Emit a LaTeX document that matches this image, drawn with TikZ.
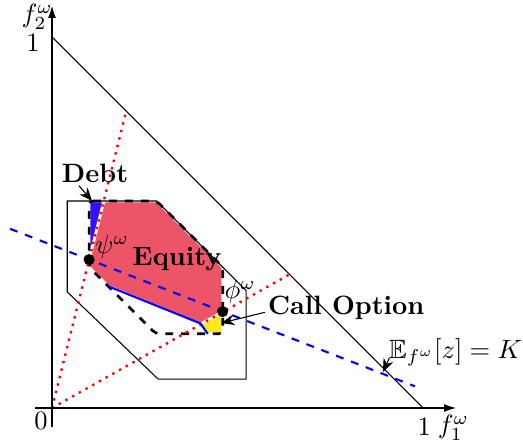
\documentclass[tikz,border=0pt]{standalone}
\usepackage{amssymb}
\usetikzlibrary{arrows.meta,calc}
\definecolor{eqred}{HTML}{EE5468}
\definecolor{debtblue}{HTML}{3311FF}
\definecolor{callyel}{HTML}{FFE81A}
\begin{document}
\begin{tikzpicture}[x=140pt,y=140pt,
  region/.style={draw=white, line width=1pt},
  reddot/.style={red, line width=0.9pt, dotted},
  ptr/.style={-{Stealth[length=5pt,width=4pt]}, thin},
  ax/.style={-{Latex[length=4.5pt,width=3pt]}},
  dotpt/.style={circle, fill=black, inner sep=0pt, minimum size=4.2pt},
  tick/.style={inner sep=0pt},
  bold/.style={font=\bfseries, inner sep=1pt}]
\useasboundingbox (-0.1402,-0.1024) rectangle (1.2695,1.0997);
% regions
\fill[eqred, region] (0.1395,0.558) -- (0.282,0.558) -- (0.46,0.38) -- (0.46,0.259)
  -- (0.40,0.226) -- (0.152,0.328) -- (0.1,0.38) -- (0.1,0.4) -- cycle;
\fill[debtblue, region] (0.1,0.558) -- (0.1395,0.558) -- (0.1,0.4) -- cycle;
\fill[callyel, region] (0.46,0.259) -- (0.46,0.2) -- (0.42,0.2) -- (0.40,0.226) -- cycle;
% outer polygon
\draw (0.041,0.558) -- (0.282,0.558) -- (0.523,0.317) -- (0.523,0.078)
  -- (0.286,0.078) -- (0.041,0.313) -- cycle;
% dashed polygon
\draw[line width=1pt, dashed, rounded corners=1.5pt] (0.1,0.558) -- (0.282,0.558) -- (0.46,0.38)
  -- (0.46,0.2) -- (0.28,0.2) -- (0.1,0.38) -- cycle;
% simplex edge
\draw (0,1) -- (1,0);
% red dotted rays
\draw[reddot] (0,0) -- (0.2,0.8);
\draw[reddot] (0,0) -- (0.64,0.36);
% blue dashed level line
\draw[blue, thick, dashed] (-0.113,0.483) -- (0.978,0.0585);
% blue solid boundary
\draw[blue, thick] (0.152,0.328) -- (0.40,0.228) -- (0.42,0.2);
% points
\node[dotpt] (psi) at (0.1,0.4) {};
\node[dotpt] (phi) at (0.46,0.26) {};
\node[tick] (psil) at (0.162,0.433) {$\psi^\omega$};
\node[tick] (phil) at (0.507,0.312) {$\phi^\omega$};
% axes
\draw[ax] (-0.0458,0) -- (1.089,0);
\draw[ax] (0,-0.051) -- (0,1.0836);
\node[tick] (zero) at (-0.030,-0.035) {0};
\node[tick] (oney) at (-0.051,0.986) {1};
\node[tick] (onex) at (1.003,-0.049) {1};
\node[tick] (f2) at (-0.040,1.054) {$f_2^\omega$};
\node[tick] (f1) at (1.082,-0.054) {$f_1^\omega$};
% labels
\node[bold] (debt) at (0.116,0.633) {Debt};
\coordinate (debttip) at (0.108,0.558);
\draw[ptr] ($(debt.south west)+(0.054,0)$) -- (debttip);
\node[bold] (equity) at (0.337,0.402) {Equity};
\node[bold, anchor=west] (call) at (0.574,0.270) {Call Option};
\coordinate (calltip) at (0.456,0.229);
\draw[ptr] ($(call.west)+(0,-0.012)$) -- (calltip);
\node[anchor=east, inner sep=0pt] (elbl) at (1.2685,0.151) {$\mathbb{E}_{f^\omega}[z] = K$};
\coordinate (etip) at (0.892,0.097);
\draw[ptr] ($(elbl.west)+(0.002,-0.016)$) -- (etip);
\end{tikzpicture}
\end{document}
